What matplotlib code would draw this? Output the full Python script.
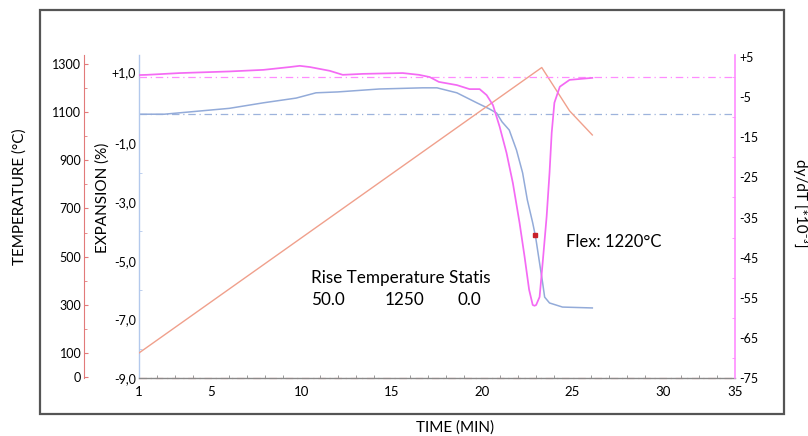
import matplotlib
matplotlib.use("Agg")
import matplotlib.pyplot as plt
from matplotlib.patches import Rectangle
from matplotlib.transforms import ScaledTranslation

plt.rcParams['font.family'] = ['Lato', 'DejaVu Sans']

# ---------------- data ----------------
# temperature programme (°C) vs time (min)
time_temp = [1.0, 23.3, 24.84, 26.1]
temperature = [100, 1285, 1105, 1005]

# expansion (%) vs time (min)
time_exp = [1.0, 2.4, 3.3, 6.0, 7.9, 9.7, 10.8, 12.0, 14.3, 16.7, 17.5, 18.6,
            19.7, 20.4, 20.8, 21.1, 21.5, 21.9, 22.24, 22.5, 22.8, 22.96,
            23.18, 23.35, 23.46, 23.73, 24.45, 26.1]
expansion = [0.0, 0.0, 0.05, 0.2, 0.39, 0.55, 0.73, 0.76, 0.86, 0.9, 0.9, 0.73,
             0.39, 0.18, 0.04, -0.26, -0.54, -1.22, -2.0, -2.92, -3.71, -4.19,
             -5.08, -5.76, -6.24, -6.44, -6.58, -6.61]

# derivative dy/dT (*1e-3) vs time (min)
time_deriv = [1.0, 1.44, 3.27, 6.0, 7.9, 9.35, 9.9, 10.46, 11.56, 12.28, 13.4,
              15.6, 16.5, 17.1, 17.6, 18.6, 19.3, 19.86, 20.25, 20.6, 20.97,
              21.35, 21.7, 22.07, 22.35, 22.6, 22.8, 22.9, 22.99, 23.18, 23.35,
              23.57, 23.73, 23.85, 24.0, 24.3, 24.84, 26.1]
deriv = [0.5, 0.56, 1.0, 1.4, 1.8, 2.5, 2.8, 2.5, 1.56, 0.56, 0.8,
         1.0, 0.56, 0.0, -1.2, -2.0, -3.0, -3.0, -4.5, -7.0, -12.4,
         -18.9, -26.4, -36.3, -44.8, -53.0, -56.8, -57.0, -56.8, -54.8, -46.3,
         -34.8, -23.9, -13.9, -6.4, -2.4, -0.7, -0.2]

# flex point
flex_time = [22.93]
flex_exp = [-4.12]

# ticks
time_ticks = [1, 5, 10, 15, 20, 25, 30, 34]
time_tick_labels = ['1', '5', '10', '15', '20', '25', '30', '35']
exp_ticks = [1, -1, -3, -5, -7, -9]
exp_tick_labels = ['+1,0', '-1,0', '-3,0', '-5,0', '-7,0', '-9,0']
temp_ticks = [1300, 1100, 900, 700, 500, 300, 100, 0]
temp_tick_labels = ['1300', '1100', '900', '700', '500', '300', '100', '0']
deriv_ticks = [5, -5, -15, -25, -35, -45, -55, -65, -75]
deriv_tick_labels = ['+5', '-5', '-15', '-25', '-35', '-45', '-55', '-65', '-75']

# ---------------- styling ----------------
W_PX, H_PX = 808, 436
C_TEMP = '#f0a08c'
C_TEMP_AX = '#e27a7a'
C_EXP = '#93abd9'
C_EXP_AX = '#b3c9ec'
C_DER = '#f46af4'
C_DER_AX = '#ff8cff'


def fx(x):
    return x / W_PX


def fy(y):
    return 1 - y / H_PX


fig = plt.figure(figsize=(W_PX / 100, H_PX / 100), dpi=100)

left, right, top, bottom = 139, 735, 55, 378
ax = fig.add_axes([fx(left), fy(bottom), (right - left) / W_PX, (bottom - top) / H_PX])
ax_t = ax.twinx()
ax_d = ax.twinx()
for a in (ax, ax_t, ax_d):
    a.patch.set_visible(False)

# expansion axis (host)
ax.set_xlim(1, 34)
ax.set_ylim(-9, 2.02)
for s in ('top', 'right'):
    ax.spines[s].set_visible(False)
ax.spines['left'].set_color(C_EXP_AX)
ax.spines['left'].set_linewidth(1.0)
ax.spines['bottom'].set_color('#8a8a8a')
ax.spines['bottom'].set_linewidth(1.0)
ax.set_xticks(time_ticks)
ax.set_xticklabels(time_tick_labels)
ax.set_xticks(range(2, 34), minor=True)
ax.tick_params(axis='x', which='major', length=0, pad=6, labelsize=9.5)
ax.tick_params(axis='x', which='minor', length=2, direction='in', color='#8a8a8a')
ax.set_yticks(exp_ticks)
ax.set_yticklabels(exp_tick_labels)
ax.set_yticks([0, -2, -4, -6, -8], minor=True)
ax.tick_params(axis='y', which='major', length=0, pad=2, labelsize=9)
ax.tick_params(axis='y', which='minor', length=2, direction='in', color=C_EXP_AX)
# shift "+1,0" label up as in the reference
for lab in ax.get_yticklabels():
    if lab.get_text() == '+1,0':
        lab.set_transform(lab.get_transform() + ScaledTranslation(0, 13 / 100, fig.dpi_scale_trans))

# temperature axis (outer left)
ax_t.set_ylim(-4, 1337)
for s in ('top', 'right', 'bottom'):
    ax_t.spines[s].set_visible(False)
ax_t.spines['left'].set_visible(True)
ax_t.spines['left'].set_position(('axes', -55 / (right - left)))
ax_t.spines['left'].set_color(C_TEMP_AX)
ax_t.yaxis.set_ticks_position('left')
ax_t.yaxis.set_label_position('left')
ax_t.set_yticks(temp_ticks)
ax_t.set_yticklabels(temp_tick_labels)
ax_t.set_yticks([200, 400, 600, 800, 1000, 1200], minor=True)
ax_t.tick_params(axis='y', which='major', direction='in', length=3, color=C_TEMP_AX, pad=2, labelsize=9)
ax_t.tick_params(axis='y', which='minor', direction='in', length=2, color=C_TEMP_AX)

# derivative axis (right)
ax_d.set_ylim(-75, 5.5)
for s in ('top', 'left', 'bottom'):
    ax_d.spines[s].set_visible(False)
ax_d.spines['right'].set_color(C_DER_AX)
ax_d.spines['right'].set_linewidth(1.2)
ax_d.set_yticks(deriv_ticks)
ax_d.set_yticklabels(deriv_tick_labels)
ax_d.set_yticks([0, -10, -20, -30, -40, -50, -60, -70], minor=True)
ax_d.tick_params(axis='y', which='major', length=0, pad=3, labelsize=9)
ax_d.tick_params(axis='y', which='minor', direction='in', length=2, color=C_DER_AX)

# reference lines
ax.axhline(0, color=C_EXP, lw=0.9, ls=(0, (6, 3, 1, 3)), alpha=0.9)
ax_d.axhline(0, color=C_DER_AX, lw=0.9, ls=(0, (6, 3, 1, 3)))
ax.axhline(-9, color='#f0a0a0', lw=0.9, ls=(0, (6, 3, 1, 3)), clip_on=False)

# curves
ax_t.plot(time_temp, temperature, color=C_TEMP, lw=1.0)
ax.plot(time_exp, expansion, color=C_EXP, lw=1.1)
ax_d.plot(time_deriv, deriv, color=C_DER, lw=1.25)
ax.plot(flex_time, flex_exp, 's', color='#c8202a', ms=3)

# texts
fig.text(fx(566), fy(242), 'Flex: 1220°C', fontsize=12, va='center', ha='left')
fig.text(fx(311), fy(278), 'Rise Temperature Statis', fontsize=12.3, va='center', ha='left')
fig.text(fx(311), fy(300), '50.0', fontsize=12.3, va='center', ha='left')
fig.text(fx(385), fy(300), '1250', fontsize=12.3, va='center', ha='left')
fig.text(fx(458), fy(300), '0.0', fontsize=12.3, va='center', ha='left')

# axis titles
fig.text(fx(20), fy(197), 'TEMPERATURE (°C)', rotation=90, fontsize=11, va='center', ha='center')
fig.text(fx(103), fy(198), 'EXPANSION (%)', rotation=90, fontsize=11, va='center', ha='center')
fig.text(fx(801), fy(203), 'dy/dT [*10⁻³]', rotation=-90, fontsize=11, va='center', ha='center',
         family=['Lato', 'DejaVu Sans'])
fig.text(fx(455), fy(428), 'TIME (MIN)', fontsize=11, va='center', ha='center')

# frame
fig.add_artist(Rectangle((fx(40), fy(414)), 744 / W_PX, 404 / H_PX, fill=False,
                         ec='#555555', lw=1.6, transform=fig.transFigure))

fig.savefig('out.png', dpi=100)
